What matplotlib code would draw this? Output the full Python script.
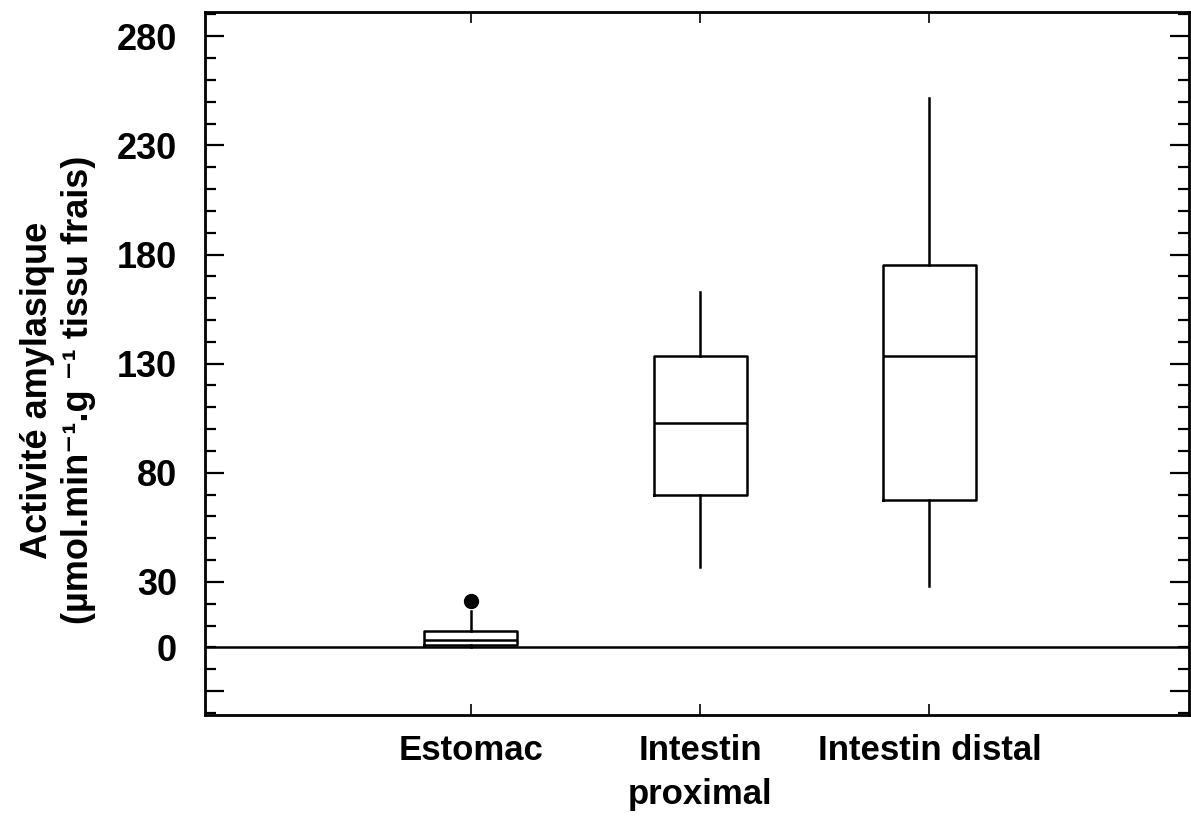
import numpy as np
import matplotlib
matplotlib.use("Agg")
import matplotlib.pyplot as plt

plt.rcParams['font.family'] = ['Liberation Sans', 'DejaVu Sans']
plt.rcParams['font.weight'] = 'bold'

# box statistics
categories = ['Estomac', 'Intestin\nproximal', 'Intestin distal']
whislo = [0.0, 37.0, 28.0]
q1 = [1.2, 70.0, 67.7]
med = [3.5, 103.0, 133.5]
q3 = [7.3, 133.5, 175.0]
whishi = [16.7, 163.0, 251.7]
fliers = [[21.2], [], []]

major_y = [-20, 30, 80, 130, 180, 230, 280]
major_lab = ['', '30', '80', '130', '180', '230', '280']

stats = []
for i in range(len(categories)):
    stats.append(dict(label=categories[i], whislo=whislo[i], q1=q1[i], med=med[i],
                      q3=q3[i], whishi=whishi[i], fliers=fliers[i]))

fig = plt.figure(figsize=(11.91, 8.19), dpi=100)
ax = fig.add_axes([0.172, 0.127, 0.826, 0.858])

lw = 1.8
ax.bxp(stats, positions=[1, 2, 3], widths=0.405, showcaps=False,
       boxprops=dict(color='black', linewidth=lw),
       medianprops=dict(color='black', linewidth=lw),
       whiskerprops=dict(color='black', linewidth=lw),
       flierprops=dict(marker='o', markerfacecolor='black', markeredgecolor='black',
                       markersize=10))

ax.axhline(0, color='black', linewidth=lw)

ax.set_xlim(-0.16, 4.13)
ax.set_ylim(-31, 291)

ax.set_yticks(major_y, labels=major_lab)
minor_y = [v for v in range(-30, 291, 10) if v not in major_y]
ax.set_yticks(minor_y, labels=['0' if v == 0 else '' for v in minor_y], minor=True)
ax.set_xticks([1, 2, 3], labels=categories)

for s in ax.spines.values():
    s.set_linewidth(2.0)

ax.tick_params(axis='y', which='major', direction='in', length=14, width=1.6,
               labelsize=26, pad=20, right=True)
ax.tick_params(axis='y', which='minor', direction='in', length=8, width=1.6,
               labelsize=26, pad=20, right=True)
ax.tick_params(axis='x', which='major', direction='in', length=8, width=1.2,
               labelsize=25, pad=14, top=True)
for lab in ax.get_xticklabels():
    lab.set_verticalalignment('top')
    lab.set_linespacing(1.42)

fig.text(58 / 1191, 1 - 390 / 819,
         'Activité amylasique\n(µmol.min⁻¹.g ⁻¹ tissu frais)',
         rotation=90, ha='center', va='center', multialignment='center',
         fontsize=26, fontweight='bold', linespacing=1.2)

fig.savefig('out.png', dpi=100)
